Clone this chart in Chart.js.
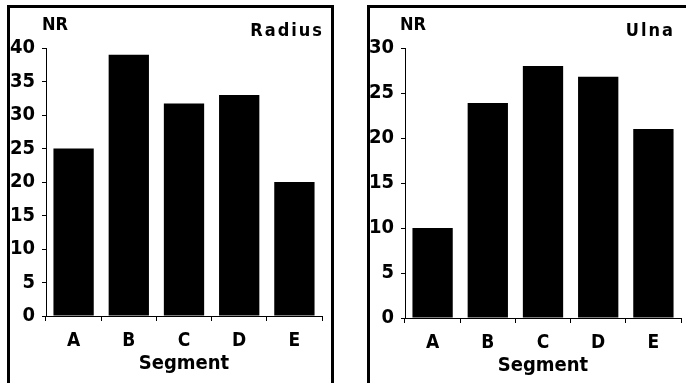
<!DOCTYPE html>
<html><head><meta charset="utf-8">
<script src="https://cdn.jsdelivr.net/npm/chart.js@4"></script>
<style>
html,body{margin:0;padding:0;background:#fff}
body{width:686px;height:383px;overflow:hidden;position:relative}
.panel{position:absolute;box-sizing:border-box;border:3px solid #000;border-bottom:none}
#p1{left:7px;top:5px;width:327px;height:390px}
#p2{left:367px;top:5px;width:330px;height:390px;border-right:none}
.wrap{position:absolute;top:0;width:343px;height:383px}
.lbl{position:absolute;font-family:"DejaVu Sans Condensed","Liberation Sans Narrow",sans-serif;font-weight:bold;color:#000;line-height:1}
</style></head>
<body>
<div class="panel" id="p1"></div>
<div class="panel" id="p2"></div>
<div class="wrap" style="left:0"><canvas id="c1" width="343" height="383"></canvas></div>
<div class="wrap" style="left:343px"><canvas id="c2" width="343" height="383"></canvas></div>
<div class="lbl" style="left:42px;top:15px;font-size:18px">NR</div>
<div class="lbl" style="right:362px;top:21px;font-size:18px;letter-spacing:2px">Radius</div>
<div class="lbl" style="left:400px;top:15px;font-size:18px">NR</div>
<div class="lbl" style="right:11px;top:21px;font-size:18px;letter-spacing:2px">Ulna</div>
<script>
const categories = ["A", "B", "C", "D", "E"];
const radiusValues = [25, 39, 31.7, 33, 20];
const ulnaValues = [10, 23.9, 28, 26.8, 21];
const radiusTicks = {max: 40, step: 5};
const ulnaTicks = {max: 30, step: 5};
const xTitle = "Segment";

const FONT = '"DejaVu Sans Condensed","Liberation Sans Narrow",sans-serif';

function makeChart(id, values, tk, pad) {
  new Chart(document.getElementById(id), {
    type: 'bar',
    data: {labels: categories, datasets: [{data: values, backgroundColor: '#000', borderWidth: 0,
      categoryPercentage: 1, barPercentage: 0.73}]},
    options: {
      responsive: false, animation: false, devicePixelRatio: 1,
      layout: {padding: pad},
      plugins: {legend: {display: false}, tooltip: {enabled: false}},
      scales: {
        x: {
          offset: true,
          grid: {offset: true, drawOnChartArea: false, drawTicks: true, tickLength: 5, color: '#000', lineWidth: 1},
          border: {display: true, color: '#000', width: 1},
          ticks: {color: '#000', padding: 9, font: {family: FONT, size: 19, weight: 'bold'}},
          title: {display: true, text: xTitle, color: '#000', padding: 0, font: {family: FONT, size: 20, weight: 'bold'}},
          afterFit: s => { s.height = 60; }
        },
        y: {
          min: 0, max: tk.max,
          grid: {drawOnChartArea: false, drawTicks: true, tickLength: 4, color: '#000', lineWidth: 1},
          border: {display: true, color: '#000', width: 1},
          ticks: {stepSize: tk.step, color: '#000', padding: 7, font: {family: FONT, size: 20, weight: 'bold'}},
          afterFit: s => { s.width = 40; }
        }
      }
    }
  });
}
makeChart('c1', radiusValues, radiusTicks, {left: 6, right: 21, top: 48, bottom: 7});
makeChart('c2', ulnaValues, ulnaTicks, {left: 22, right: 5, top: 48, bottom: 5});
</script>
</body></html>
